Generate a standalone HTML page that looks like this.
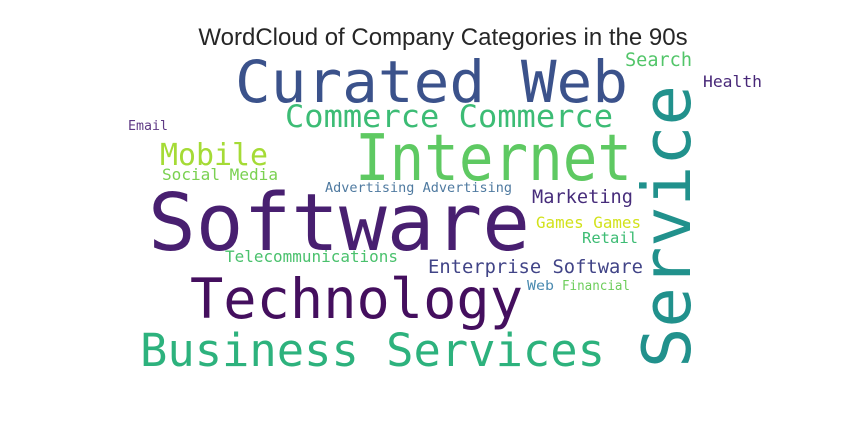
<!DOCTYPE html>
<html><head><meta charset="utf-8">
<style>
html,body{margin:0;padding:0;background:#fff;}
svg text.w{font-family:"DejaVu Sans Mono","Liberation Mono",monospace;}
</style></head>
<body>
<svg id="cloud" width="864" height="432" viewBox="0 0 864 432" xmlns="http://www.w3.org/2000/svg">
<rect width="864" height="432" fill="#fff"/>
<text x="443" y="45" text-anchor="middle" font-family="Liberation Sans, Arial, sans-serif" font-size="24" fill="#262626">WordCloud of Company Categories in the 90s</text>
<g id="words"></g>
</svg>
<script>
const words = ["Curated Web","Commerce Commerce","Internet","Service","Software","Technology","Business Services","Mobile","Social Media","Email","Advertising Advertising","Marketing","Games Games","Retail","Telecommunications","Enterprise Software","Web","Financial","Search","Health"];
const sizes = [58,31,64,67,79,55,45,30,16,13,13.5,18.6,16,15.5,16,18.8,13,13,18.5,16];
const colors = ["#3b528b","#3cbc75","#5ec962","#21918c","#481f70","#440f5e","#2db27d","#a5db36","#7ad151","#5f3a85","#4f7aa0","#472d7b","#d2e21b","#3dbc74","#4ac16d","#414487","#4a8ab0","#6ccd5a","#52c569","#482878"];
const xs = [235,285,355,690,148,190,140,160,162,128,325,532,536,582,225,428,527,562,625,703];
const ys = [102,127,180,368,250,318,366,165,180,130,192,203,228,243,262,273,290,290,66,87];
const widths = [393,328,277,283,382,333,465,108,116,40,187,101,105,56,173,215,27,68,67,59];
const rot = [0,0,0,-90,0,0,0,0,0,0,0,0,0,0,0,0,0,0,0,0];
const g = document.getElementById('words');
const NS = "http://www.w3.org/2000/svg";
words.forEach((w,i)=>{
  const t = document.createElementNS(NS,'text');
  t.setAttribute('class','w');
  t.setAttribute('x',xs[i]);
  t.setAttribute('y',ys[i]);
  t.setAttribute('font-size',sizes[i]);
  t.setAttribute('fill',colors[i]);
  t.setAttribute('textLength',widths[i]);
  t.setAttribute('lengthAdjust','spacingAndGlyphs');
  if(rot[i]) t.setAttribute('transform','rotate('+rot[i]+' '+xs[i]+' '+ys[i]+')');
  t.textContent = w;
  
  
  g.appendChild(t);
});
</script>
</body></html>
